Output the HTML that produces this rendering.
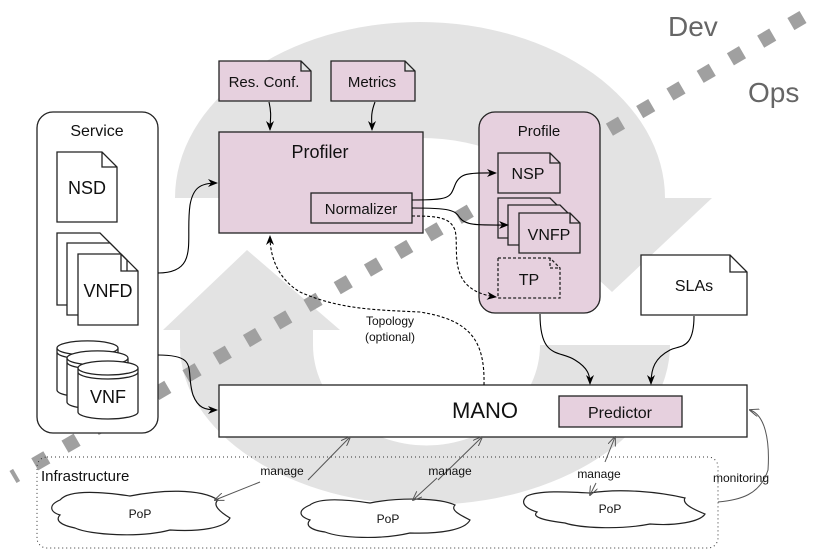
<!DOCTYPE html>
<html><head><meta charset="utf-8"><style>
html,body{margin:0;padding:0;background:#fff}
svg{display:block}
text{font-family:"Liberation Sans",sans-serif;fill:#111}
</style></head><body>
<svg width="830" height="550" viewBox="0 0 830 550" xmlns="http://www.w3.org/2000/svg">
<defs>
<marker id="ah" markerWidth="10" markerHeight="8" refX="9" refY="4" orient="auto" markerUnits="userSpaceOnUse"><path d="M0,0 L10,4 L0,8 L3,4 Z" fill="#000"/></marker>
<marker id="ag" markerWidth="10" markerHeight="8" refX="9" refY="4" orient="auto" markerUnits="userSpaceOnUse"><path d="M0,0 L10,4 L0,8" fill="none" stroke="#555" stroke-width="1"/></marker>
</defs>
<!-- gray cycle -->
<g fill="#e3e3e3">
<path d="M175,198 A245,176 0 0 1 665,198 L540,198 A120,60 0 0 0 300,198 Z"/>
<path d="M510,198 L712,198 L612,292 Z"/>
<path d="M670,345 A245,160 0 0 1 180,345 L313,345 A113,100 0 0 0 540,345 Z"/>
<path d="M163,330 L340,330 L247,250 Z"/>
<rect x="180" y="328" width="133" height="20"/>
</g>
<!-- dashed squares -->
<line x1="803" y1="17" x2="13" y2="477" stroke="#a0a0a0" stroke-width="14" stroke-dasharray="14 21"/>
<text x="668" y="36" font-size="28" style="fill:#666">Dev</text>
<text x="748" y="102" font-size="28" style="fill:#666">Ops</text>

<g stroke="#222" stroke-width="1.3">
<rect x="37" y="112" width="121" height="321" rx="16" fill="#fff"/>
<path d="M57,152 H102 L117,167 V222 H57 Z M102,152 V167 H117" fill="#fff"/>
<path d="M57,233 H100 L117,250 V305 H57 Z" fill="#fff"/>
<path d="M67,243 H110 L127,260 V315 H67 Z" fill="#fff"/>
<path d="M78,254 H121 L138,271 V325 H78 Z M121,254 V271 H138" fill="#fff"/>
<path d="M57,348 V390 A30,7 0 0 0 118,390 V348 A30,7 0 0 0 57,348 Z M57,348 A30,7 0 0 0 118,348 M57,352 A30,7 0 0 0 118,352" fill="#fff"/>
<path d="M67,358 V402 A30,7 0 0 0 128,402 V358 A30,7 0 0 0 67,358 Z M67,358 A30,7 0 0 0 128,358 M67,362 A30,7 0 0 0 128,362" fill="#fff"/>
<path d="M78,368 V412 A30,7 0 0 0 138,412 V368 A30,7 0 0 0 78,368 Z M78,368 A30,7 0 0 0 138,368 M78,372 A30,7 0 0 0 138,372" fill="#fff"/>
<path d="M219,61 H301 L311,71 V101 H219 Z M301,61 V71 H311" fill="#e6d0de"/>
<path d="M331,61 H405 L415,71 V101 H331 Z M405,61 V71 H415" fill="#e6d0de"/>
<rect x="219" y="132" width="204" height="101" fill="#e6d0de"/>
<rect x="311" y="193" width="101" height="30" fill="#e6d0de"/>
<rect x="479" y="112" width="121" height="201" rx="16" fill="#e6d0de"/>
<path d="M498,153 H550 L560,163 V193 H498 Z M550,153 V163 H560" fill="#e6d0de"/>
<path d="M498,198 H550 L560,208 V238 H498 Z" fill="#e6d0de"/>
<path d="M508,205 H560 L570,215 V245 H508 Z" fill="#e6d0de"/>
<path d="M519,213 H570 L580,223 V253 H519 Z M570,213 V223 H580" fill="#e6d0de"/>
<path d="M498,258 H550 L560,268 V298 H498 Z M550,258 V268 H560" fill="none" stroke-dasharray="3 2"/>
<path d="M641,255 H730 L747,272 V315 H641 Z M730,255 V272 H747" fill="#fff"/>
<rect x="219" y="385" width="528" height="52" fill="#fff"/>
<rect x="559" y="396" width="123" height="31" fill="#e6d0de"/>
</g>
<rect x="37" y="457" width="681" height="91" rx="10" fill="none" stroke="#333" stroke-width="1" stroke-dasharray="1 3"/>
<g fill="#fff" stroke="#222" stroke-width="1.2">
<path d="M60,500 C70,488 110,493 130,496 C160,490 200,488 218,500 C212,505 220,512 230,518 C225,528 200,532 170,530 C140,538 90,535 75,528 C60,525 55,520 60,515 C50,512 48,505 60,500 Z"/>
<path d="M310,505 C320,497 350,500 370,503 C400,497 440,498 455,505 C450,510 460,515 470,520 C465,530 440,534 410,533 C380,540 340,538 325,532 C310,530 305,525 310,520 C298,516 298,510 310,505 Z"/>
<path d="M527,496 C540,490 570,492 590,493 C620,488 660,492 685,498 C682,503 690,508 705,514 C700,522 675,526 650,524 C620,530 580,528 565,523 C550,521 530,518 537,512 C524,508 520,502 527,496 Z"/>
</g>
<g fill="none" stroke="#000" stroke-width="1.1">
<path d="M269,102 C272,115 270,120 270,130" marker-end="url(#ah)"/>
<path d="M375,102 C370,115 372,120 372,130" marker-end="url(#ah)"/>
<path d="M158,273 C200,273 185,240 190,205 C193,188 200,183 217,183" marker-end="url(#ah)"/>
<path d="M158,355 C200,355 185,370 193,395 C198,408 205,410 217,410" marker-end="url(#ah)"/>
<path d="M412,200 C450,200 450,198 455,185 C460,172 470,173 496,173" marker-end="url(#ah)"/>
<path d="M412,208 C450,208 455,210 460,218 C466,226 480,225 508,225" marker-end="url(#ah)"/>
<path d="M412,216 C440,216 450,218 455,230 C460,250 445,290 496,297" stroke-dasharray="3 2" marker-end="url(#ah)"/>
<path d="M484,385 C485,340 470,320 420,312 C380,310 340,310 300,292 C280,280 270,260 270,236" stroke-dasharray="3 2" marker-end="url(#ah)"/>
<path d="M540,314 C540,360 560,350 575,360 C588,368 590,375 590,384" marker-end="url(#ah)"/>
<path d="M694,316 C694,350 680,345 670,350 C655,358 651,368 651,384" marker-end="url(#ah)"/>
</g>
<g fill="none" stroke="#555" stroke-width="1">
<path d="M308,480 L350,437" marker-end="url(#ag)"/>
<path d="M260,482 L215,500" marker-end="url(#ag)"/>
<path d="M438,480 L482,437" marker-end="url(#ag)"/>
<path d="M437,478 L413,500" marker-end="url(#ag)"/>
<path d="M605,462 L615,437" marker-end="url(#ag)"/>
<path d="M596,483 L590,495" marker-end="url(#ag)"/>
<path d="M718,502 C740,500 760,495 768,470 C770,440 765,415 750,410" marker-end="url(#ag)"/>
</g>
<text x="97" y="136" font-size="16" text-anchor="middle">Service</text>
<text x="87" y="194" font-size="18" text-anchor="middle">NSD</text>
<text x="108" y="297" font-size="18" text-anchor="middle">VNFD</text>
<text x="108" y="403" font-size="18" text-anchor="middle">VNF</text>
<text x="264" y="87" font-size="15" text-anchor="middle">Res. Conf.</text>
<text x="372" y="87" font-size="15" text-anchor="middle">Metrics</text>
<text x="320" y="158" font-size="18" text-anchor="middle">Profiler</text>
<text x="361" y="214" font-size="15" text-anchor="middle">Normalizer</text>
<text x="539" y="136" font-size="15" text-anchor="middle">Profile</text>
<text x="528" y="179" font-size="16" text-anchor="middle">NSP</text>
<text x="549" y="240" font-size="16" text-anchor="middle">VNFP</text>
<text x="529" y="285" font-size="16" text-anchor="middle">TP</text>
<text x="694" y="291" font-size="16" text-anchor="middle">SLAs</text>
<text x="485" y="418" font-size="22" text-anchor="middle">MANO</text>
<text x="620" y="418" font-size="16" text-anchor="middle">Predictor</text>
<text x="390" y="325" font-size="12" text-anchor="middle">Topology</text>
<text x="390" y="341" font-size="12" text-anchor="middle">(optional)</text>
<text x="41" y="481" font-size="15">Infrastructure</text>
<text x="282" y="475" font-size="12" text-anchor="middle">manage</text>
<text x="450" y="475" font-size="12" text-anchor="middle">manage</text>
<text x="599" y="478" font-size="12" text-anchor="middle">manage</text>
<text x="741" y="482" font-size="12" text-anchor="middle">monitoring</text>
<text x="140" y="518" font-size="12" text-anchor="middle">PoP</text>
<text x="388" y="523" font-size="12" text-anchor="middle">PoP</text>
<text x="610" y="513" font-size="12" text-anchor="middle">PoP</text>
</svg>
</body></html>
